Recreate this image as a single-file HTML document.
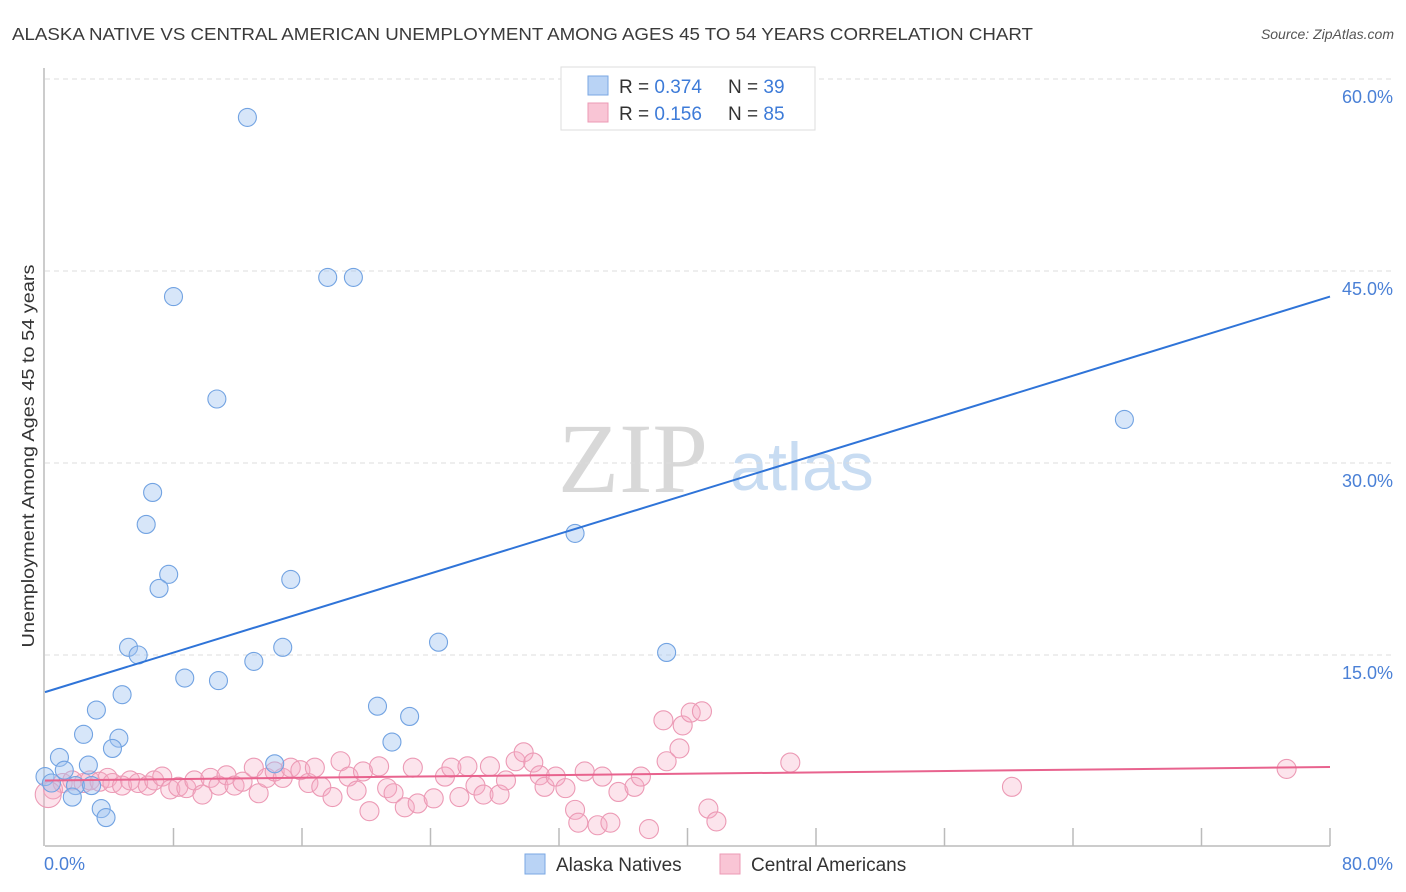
<!DOCTYPE html>
<html><head><meta charset="utf-8"><style>
body{margin:0;background:#fff;font-family:"Liberation Sans",sans-serif}
svg{display:block}
</style></head><body>
<svg id="chart" width="1406" height="892" xmlns="http://www.w3.org/2000/svg">
<text x="12" y="40" font-size="17.5" fill="#3a3a3a" textLength="1021" lengthAdjust="spacingAndGlyphs">ALASKA NATIVE VS CENTRAL AMERICAN UNEMPLOYMENT AMONG AGES 45 TO 54 YEARS CORRELATION CHART</text>
<text x="1394" y="39" font-size="14" fill="#555" text-anchor="end" font-style="italic">Source: ZipAtlas.com</text>
<g>
<text x="633" y="492" font-size="100" fill="#d8d8d8" text-anchor="middle" font-family="Liberation Serif,serif">ZIP</text>
<text x="802" y="490" font-size="68" fill="#c8dcf2" text-anchor="middle">atlas</text>
</g>
<g id="grid"></g>
<g id="axes"></g>
<g id="pts"></g>
<g id="lines"></g>
<g>
<rect x="561" y="67" width="254" height="63" fill="#fff" stroke="#ddd"/>
<rect x="588" y="76" width="20" height="19" fill="#b9d3f5" stroke="#7aa7e3"/>
<rect x="588" y="103" width="20" height="19" fill="#f9c5d5" stroke="#ec9ab5"/>
<text x="619" y="93" font-size="19" fill="#333">R = <tspan fill="#3d7bd8">0.374</tspan></text>
<text x="728" y="93" font-size="19" fill="#333">N = <tspan fill="#3d7bd8">39</tspan></text>
<text x="619" y="120" font-size="19" fill="#333">R =  <tspan fill="#3d7bd8">0.156</tspan></text>
<text x="728" y="120" font-size="19" fill="#333">N = <tspan fill="#3d7bd8">85</tspan></text>
</g>
<g>
<rect x="525" y="854" width="20" height="20" fill="#b9d3f5" stroke="#7aa7e3"/>
<text x="556" y="871" font-size="19" fill="#333">Alaska Natives</text>
<rect x="720" y="854" width="20" height="20" fill="#f9c5d5" stroke="#ec9ab5"/>
<text x="751" y="871" font-size="19" fill="#333">Central Americans</text>
</g>
<text transform="translate(34,456) rotate(-90)" font-size="17.5" fill="#333" text-anchor="middle" textLength="383" lengthAdjust="spacingAndGlyphs">Unemployment Among Ages 45 to 54 years</text>
</svg>
<script>
const yTicks=[15,30,45,60];
const yTickLabels=["15.0%","30.0%","45.0%","60.0%"];
const xTickCount=10;
const alaskaX=[12.6,17.6,19.2,8.0,10.7,67.2,6.7,6.3,33.0,7.7,7.1,15.3,5.2,5.8,24.5,14.8,38.7,13.0,8.7,10.8,4.8,3.2,20.7,22.7,2.4,4.6,4.2,21.6,0.9,14.3,1.2,2.7,0,0.4,1.9,2.9,1.7,3.5,3.8];
const alaskaY=[57.0,44.5,44.5,43.0,35.0,33.4,27.7,25.2,24.5,21.3,20.2,20.9,15.6,15.0,16.0,15.6,15.2,14.5,13.2,13.0,11.9,10.7,11.0,10.2,8.8,8.5,7.7,8.2,7.0,6.5,6.0,6.4,5.5,5.0,4.8,4.8,3.9,3.0,2.3];
const centralX=[0.5,1.1,1.7,2.4,2.8,3.4,3.9,4.2,4.8,5.3,5.8,6.4,6.8,7.3,7.8,8.3,8.8,9.3,9.8,10.3,10.8,11.3,11.8,12.3,13.0,13.3,13.8,14.3,14.8,15.3,15.9,16.4,16.8,17.2,17.9,18.4,18.9,19.4,19.8,20.2,20.8,21.3,21.7,22.4,22.9,23.2,24.2,24.9,25.3,25.8,26.3,26.8,27.3,27.7,28.3,28.7,29.3,29.8,30.4,30.8,31.1,31.8,32.4,33.0,33.2,33.6,34.4,34.7,35.2,35.7,36.7,37.1,37.6,38.5,38.7,39.5,39.7,40.2,40.9,41.3,41.8,46.4,60.2,77.3,0.2];
const centralY=[4.5,5.0,5.2,5.0,5.2,5.1,5.4,5.0,4.8,5.2,5.0,4.8,5.2,5.5,4.5,4.7,4.6,5.2,4.1,5.4,4.8,5.6,4.8,5.1,6.2,4.2,5.4,5.9,5.4,6.2,6.0,5.0,6.2,4.7,3.9,6.7,5.5,4.4,5.9,2.8,6.3,4.6,4.2,3.1,6.2,3.4,3.8,5.5,6.2,3.9,6.3,4.8,4.1,6.3,4.1,5.2,6.7,7.4,6.6,5.6,4.7,5.5,4.6,2.9,1.9,5.9,1.7,5.5,1.9,4.3,4.7,5.5,1.4,9.9,6.7,7.7,9.5,10.5,10.6,3.0,2.0,6.6,4.7,6.1,4.1];
const alaskaTrend=[12.1,43.0];
const centralTrend=[5.2,6.25];
const NS="http://www.w3.org/2000/svg";
const X=v=>45+v/80*1285, Y=v=>847-v*12.8;
function mk(tag,attrs,parent){const e=document.createElementNS(NS,tag);for(const k in attrs)e.setAttribute(k,attrs[k]);parent.appendChild(e);return e;}
const grid=document.getElementById('grid'),axes=document.getElementById('axes'),pts=document.getElementById('pts'),lines=document.getElementById('lines');
yTicks.forEach((t,i)=>{
 const g=mk('line',{x1:45,x2:1394,y1:Y(t),y2:Y(t),stroke:'#ddd','stroke-dasharray':'5,4'},grid);
 
 
 const l=mk('text',{x:1393,y:Y(t)+24,'font-size':18,fill:'#4a80d6','text-anchor':'end'},axes);
 l.textContent=yTickLabels[i];
 
 
});
const ax=mk('line',{x1:45,x2:1330,y1:846,y2:846,stroke:'#bbb','stroke-width':1.5},axes);


const ay=mk('line',{x1:44,x2:44,y1:68,y2:846,stroke:'#bbb','stroke-width':1.5},axes);


for(let i=1;i<=xTickCount;i++){
 const x=X(i*80/xTickCount);
 const t=mk('line',{x1:x,x2:x,y1:828,y2:846,stroke:'#bbb','stroke-width':1.5},axes);
 
 
}
const x0=mk('text',{x:44,y:870,'font-size':18,fill:'#4a80d6'},axes);x0.textContent='0.0%';


const x1=mk('text',{x:1393,y:870,'font-size':18,fill:'#4a80d6','text-anchor':'end'},axes);x1.textContent='80.0%';


centralX.forEach((v,i)=>{
 const c=mk('circle',{cx:X(v),cy:Y(centralY[i]),r:i===centralX.length-1?13:9.5,fill:'rgba(246,170,196,0.32)',stroke:'#ec9ab5','stroke-width':1.1},pts);
 
 
});
alaskaX.forEach((v,i)=>{
 const c=mk('circle',{cx:X(v),cy:Y(alaskaY[i]),r:9,fill:'rgba(160,196,240,0.42)',stroke:'#72a3e2','stroke-width':1.1},pts);
 
 
});
const la=mk('line',{x1:X(0),y1:Y(alaskaTrend[0]),x2:X(80),y2:Y(alaskaTrend[1]),stroke:'#2f74d8','stroke-width':2},lines);


const lc=mk('line',{x1:X(0),y1:Y(centralTrend[0]),x2:X(80),y2:Y(centralTrend[1]),stroke:'#e8638e','stroke-width':2},lines);


</script>
</body></html>
